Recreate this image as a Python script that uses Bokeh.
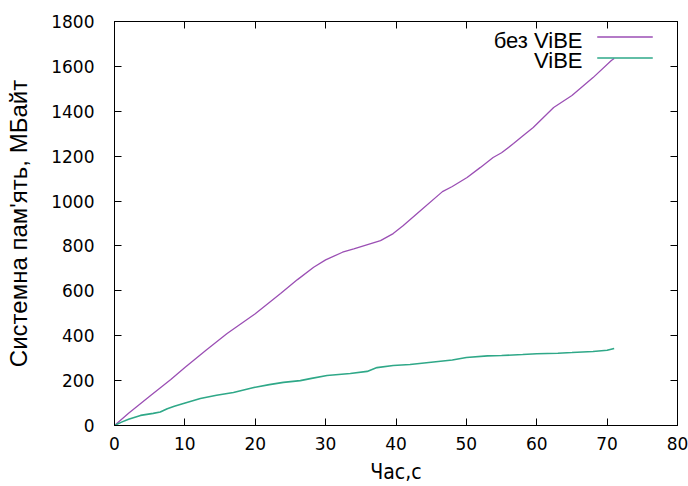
from bokeh.plotting import figure
from bokeh.models import Range1d, LinearAxis, FixedTicker, Label, BoxAnnotation
from bokeh.embed import file_html
from bokeh.resources import INLINE

# Data
t_no_vibe = [0, 2, 5, 8, 10, 13, 16, 20, 23.6, 26, 28.3, 30, 32.4, 34, 37.8, 39.6, 41, 43.5,
             46.6, 48, 50.1, 52, 53.8, 55, 56.7, 58, 59.5, 62.4, 65, 68, 70.6, 71]
mem_no_vibe = [0, 55, 130, 205, 258, 335, 410, 498, 588, 650, 705, 738, 772, 787, 824, 855,
               890, 958, 1042, 1065, 1105, 1150, 1194, 1215, 1256, 1290, 1328, 1417, 1470,
               1550, 1626, 1635]

t_vibe = [0, 1, 2, 3.7, 5.5, 6.5, 7.5, 8.5, 9.8, 12.2, 14.5, 16.9, 19.8, 22, 24, 26.4, 28, 30.2,
          33.5, 35.9, 37.3, 39.6, 42, 45, 48, 50, 53, 55, 58, 60, 63, 65, 68, 70, 71]
mem_vibe = [0, 15, 28, 45, 54, 60, 75, 86, 98, 120, 135, 147, 169, 182, 192, 200, 210, 223, 232,
            241, 258, 267, 272, 282, 292, 303, 310, 312, 316, 320, 322, 325, 330, 335, 343]

x_ticks = [0, 10, 20, 30, 40, 50, 60, 70, 80]
y_ticks = [0, 200, 400, 600, 800, 1000, 1200, 1400, 1600, 1800]

series_names = ["без ViBE", "ViBE"]
series_colors = ["#9b4fb4", "#2fa888"]

FONT = "DejaVu Sans"
LABEL_FONT = "Liberation Sans"

W, H = 688, 486
p = figure(width=W, height=H, output_backend="svg", toolbar_location=None,
           x_range=Range1d(0, 80), y_range=Range1d(0, 1800),
           min_border_left=114, min_border_right=11, min_border_top=21, min_border_bottom=61)
p.background_fill_color = "white"
p.border_fill_color = "white"
p.outline_line_color = "black"
p.outline_line_width = 1
p.grid.visible = False

p.line(t_no_vibe, mem_no_vibe, line_color=series_colors[0], line_width=1.3)
p.line(t_vibe, mem_vibe, line_color=series_colors[1], line_width=1.6)

def style_axis(ax, ticks, show_labels=True):
    ax.ticker = FixedTicker(ticks=ticks)
    ax.axis_line_color = "black"
    ax.major_tick_in = 7
    ax.major_tick_out = 0
    ax.minor_tick_line_color = None
    ax.major_tick_line_color = "black"
    ax.major_label_text_font = FONT
    ax.major_label_text_font_size = "17px"
    ax.major_label_text_color = "black" if show_labels else None
    ax.major_label_standoff = 11

style_axis(p.xaxis[0], x_ticks)
style_axis(p.yaxis[0], y_ticks)
p.yaxis[0].major_label_standoff = 20

p.xaxis[0].axis_label = "Час,с"
p.yaxis[0].axis_label = "Системна пам'ять, МБайт"
p.xaxis[0].axis_label_text_font = "DejaVu Sans Condensed"
p.xaxis[0].axis_label_text_font_size = "21px"
p.yaxis[0].axis_label_text_font = LABEL_FONT
p.yaxis[0].axis_label_text_font_size = "24px"
for ax in (p.xaxis[0], p.yaxis[0]):
    ax.axis_label_text_font_style = "normal"
    ax.axis_label_text_color = "black"
p.xaxis[0].axis_label_standoff = 7
p.yaxis[0].axis_label_standoff = 16

top_ax = LinearAxis()
style_axis(top_ax, x_ticks, show_labels=False)
top_ax.major_label_text_font_size = "0px"
top_ax.major_label_standoff = 0
p.add_layout(top_ax, "above")
right_ax = LinearAxis()
style_axis(right_ax, y_ticks, show_labels=False)
right_ax.major_label_text_font_size = "0px"
right_ax.major_label_standoff = 0
p.add_layout(right_ax, "right")

# Legend in gnuplot style: text right-aligned, line sample to the right
# (screen units, relative to the plot frame's lower-left corner)
text_rows = [385, 365]
line_rows = [388, 367]
for name, color, ty, ly in zip(series_names, series_colors, text_rows, line_rows):
    p.add_layout(Label(x=468, y=ty, x_units="screen", y_units="screen", text=name,
                       text_align="right", text_baseline="middle",
                       text_font=LABEL_FONT, text_font_size="22px", text_color="black"))
    p.add_layout(BoxAnnotation(left=483, right=538, bottom=ly, top=ly + 1,
                               left_units="screen", right_units="screen",
                               bottom_units="screen", top_units="screen",
                               fill_color=color, fill_alpha=1.0,
                               line_color=color, line_alpha=1.0, line_width=0.5))

open("out.html", "w").write(file_html(p, INLINE))
